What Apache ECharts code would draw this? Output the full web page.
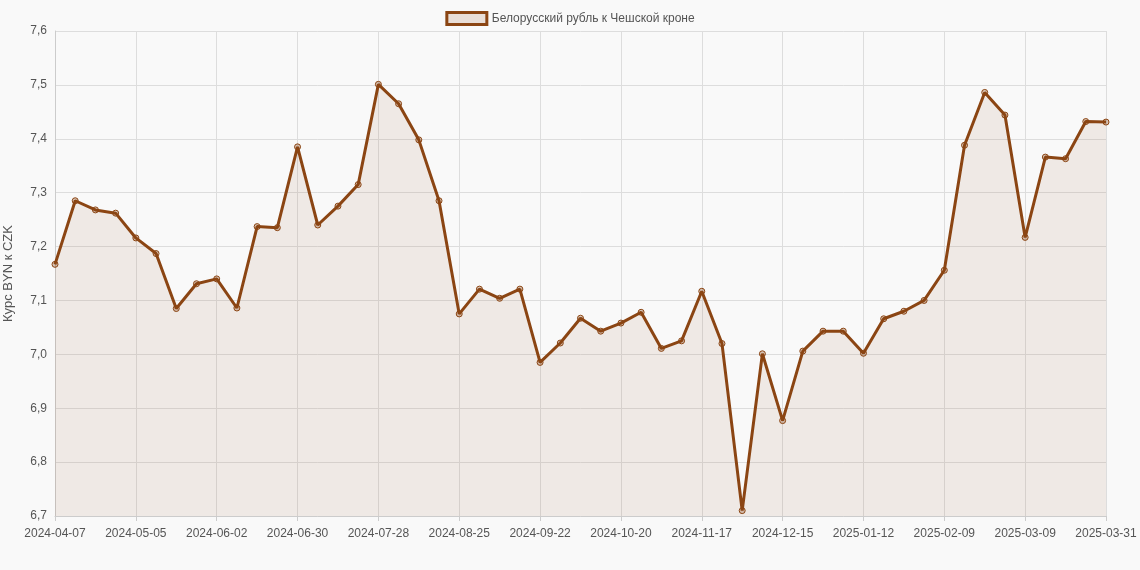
<!DOCTYPE html>
<html><head><meta charset="utf-8">
<script src="https://cdn.jsdelivr.net/npm/echarts@6/dist/echarts.min.js"></script>
<style>html,body{margin:0;background:#f9f9f9}#c{width:1140px;height:570px}</style>
</head><body><div id="c"></div>
<script>
const categories = ["2024-04-07","2024-04-14","2024-04-21","2024-04-28","2024-05-05","2024-05-12","2024-05-19","2024-05-26","2024-06-02","2024-06-09","2024-06-16","2024-06-23","2024-06-30","2024-07-07","2024-07-14","2024-07-21","2024-07-28","2024-08-04","2024-08-11","2024-08-18","2024-08-25","2024-09-01","2024-09-08","2024-09-15","2024-09-22","2024-09-29","2024-10-06","2024-10-13","2024-10-20","2024-10-27","2024-11-03","2024-11-10","2024-11-17","2024-11-24","2024-12-01","2024-12-08","2024-12-15","2024-12-22","2024-12-29","2025-01-05","2025-01-12","2025-01-19","2025-01-26","2025-02-02","2025-02-09","2025-02-16","2025-02-23","2025-03-02","2025-03-09","2025-03-16","2025-03-23","2025-03-30","2025-03-31"];
const rates = [7.167,7.285,7.268,7.262,7.216,7.187,7.085,7.131,7.140,7.086,7.237,7.235,7.385,7.240,7.275,7.315,7.501,7.465,7.398,7.285,7.075,7.121,7.104,7.121,6.985,7.021,7.067,7.043,7.058,7.078,7.011,7.025,7.117,7.020,6.710,7.001,6.877,7.006,7.043,7.043,7.002,7.066,7.080,7.100,7.156,7.388,7.486,7.444,7.217,7.366,7.363,7.432,7.431];
const seriesName = "Белорусский рубль к Чешской кроне";
const chart = echarts.init(document.getElementById('c'));
chart.setOption({
  backgroundColor:'#f9f9f9',
  animation:false,
  legend:{top:6,itemWidth:40,itemHeight:12,textStyle:{color:'#555',fontSize:12,fontFamily:'Liberation Sans'},data:[{name:seriesName,icon:'rect',itemStyle:{color:'rgba(139,69,19,0.15)',borderColor:'#8B4513',borderWidth:3}}]},
  grid:{left:55,right:34,top:31,bottom:54,outerBoundsMode:'none',containLabel:false},
  xAxis:{type:'category',boundaryGap:false,data:categories,
    axisLine:{lineStyle:{color:'#ccc'}},axisTick:{show:true,interval:3,lineStyle:{color:'#ccc'}},
    axisLabel:{interval:3,color:'#555',fontSize:12,fontFamily:'Liberation Sans',margin:12},
    splitLine:{show:true,interval:3,lineStyle:{color:'#ddd'}}},
  yAxis:{type:'value',min:6.7,max:7.6,interval:0.1,name:'Курс BYN к CZK',nameLocation:'middle',nameGap:40,
    nameTextStyle:{color:'#555',fontSize:13,fontFamily:'Liberation Sans'},
    axisLine:{show:true,lineStyle:{color:'#ccc'}},
    axisLabel:{color:'#555',fontSize:12,fontFamily:'Liberation Sans',formatter:v=>v.toFixed(1).replace('.',',')},
    splitLine:{lineStyle:{color:'#ddd'}}},
  series:[{name:seriesName,type:'line',data:rates,symbol:'circle',symbolSize:6,
    itemStyle:{color:'rgba(139,69,19,0.3)',borderColor:'#8B4513',borderWidth:1},
    lineStyle:{color:'#8B4513',width:3},
    areaStyle:{color:'rgba(139,69,19,0.12)'}}]
});
</script></body></html>
